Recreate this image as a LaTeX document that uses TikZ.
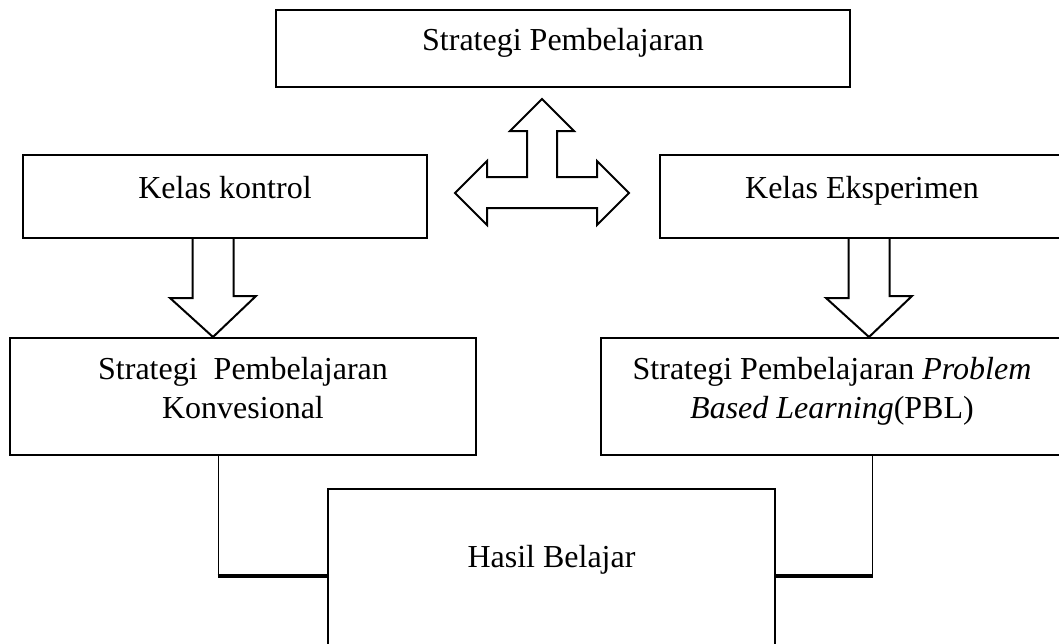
\documentclass[tikz,border=0pt]{standalone}
\usepackage{fontspec}
\setmainfont{Liberation Serif}
\usepackage{tikz}
\usetikzlibrary{calc}

\begin{document}
\begin{tikzpicture}[x=1pt, y=-1pt,
    box/.style={draw=black, line width=2pt, fill=white, inner sep=0pt},
    lbl/.style={anchor=base, align=center, inner sep=0pt, font=\fontsize{32}{38.5}\selectfont},
    blockarrow/.style={draw=black, line width=2pt, fill=white, line join=miter},
    link/.style={draw=black, line width=1pt},
    linkbold/.style={draw=black, line width=3.2pt}]
                \useasboundingbox (0,0) rectangle (1059,643);
                \clip (0,0) rectangle (1059,643);

                % Top
                \node[box, minimum width=574pt, minimum height=77pt] (strat) at (563, 48.5) {};
                \node[lbl] (strat-t) at (563, 50) {Strategi Pembelajaran};

                % Kelas
                \node[box, minimum width=404pt, minimum height=83pt] (kontrol) at (225, 196.5) {};
                \node[lbl] (kontrol-t) at (225, 198) {Kelas kontrol};
                \node[box, minimum width=404pt, minimum height=83pt] (eksp) at (862, 196.5) {};
                \node[lbl] (eksp-t) at (862, 198) {Kelas Eksperimen};

                % Three-way arrow
                \draw[blockarrow] (542,99) -- (574,131) -- (557,131) -- (557,177) -- (597,177) -- (597,161)
                    -- (629,193) -- (597,225) -- (597,208) -- (487,208) -- (487,225) -- (455,193)
                    -- (487,161) -- (487,177) -- (527,177) -- (527,131) -- (510,131) -- cycle;

                % Strategi boxes
                \node[box, minimum width=466pt, minimum height=117pt] (konv) at (243, 396.5) {};
                \node[lbl] (konv-t) at (243, 418) {Strategi~ Pembelajaran\\Konvesional};
                \node[box, minimum width=462pt, minimum height=117pt] (pbl) at (832, 396.5) {};
                \node[lbl] (pbl-t) at (832, 418) {Strategi Pembelajaran \textit{Problem}\\\textit{Based Learning}(PBL)};

                % Down arrows
                \draw[blockarrow] ($(kontrol.south)+(-32.5,0)$) -- ++(0,59) -- ++(-22.5,0) -- ($(konv.north)+(-30,0)$)
                    -- ++(43,-41) -- ++(-22.5,0) -- ($(kontrol.south)+(8.5,0)$);
                \draw[blockarrow] ($(eksp.south)+(-13.5,0)$) -- ++(0,59) -- ++(-22.5,0) -- ($(pbl.north)+(37,0)$)
                    -- ++(43,-41) -- ++(-22.5,0) -- ($(eksp.south)+(27.5,0)$);

                % Hasil
                \node[box, minimum width=447pt, minimum height=200pt] (hasil) at (551.5, 589) {};
                \node[lbl] (hasil-t) at (551.5, 567) {Hasil Belajar};

                % Links to Hasil
                \coordinate (kb) at (218, 576);
                \coordinate (pb) at (872, 576);
                \draw[link] (konv.south -| kb) -- (kb);
                \draw[linkbold] ($(kb)+(-0.5,0)$) -- (kb -| hasil.west);
                \draw[link] (pbl.south -| pb) -- (pb);
                \draw[linkbold] ($(pb)+(0.5,0)$) -- (pb -| hasil.east);
            \end{tikzpicture}
\end{document}
